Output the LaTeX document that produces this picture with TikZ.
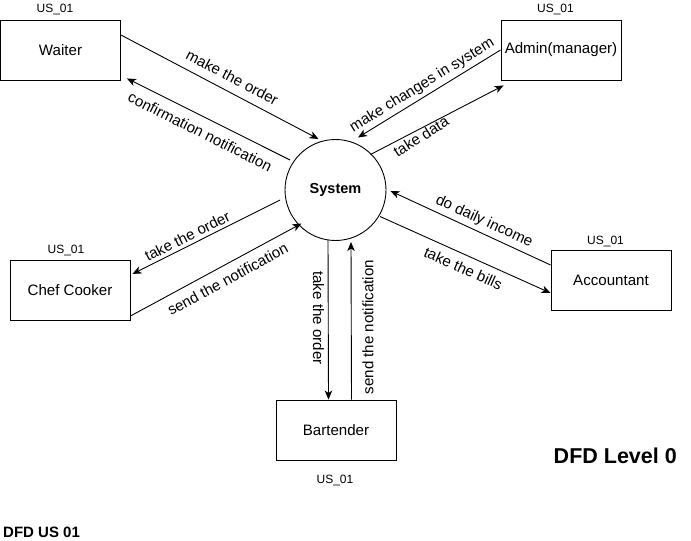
\documentclass[tikz,border=0pt]{standalone}
\usepackage{fontspec}
\setmainfont{Liberation Sans}
\usetikzlibrary{arrows.meta,calc}
\begin{document}
\begin{tikzpicture}[x=1pt,y=-1pt,
  box/.style={draw, line width=0.9pt, minimum width=120pt, minimum height=60pt, inner sep=0pt, font=\fontsize{15.1}{17}\selectfont},
  proc/.style={circle, draw, line width=0.9pt, minimum size=101pt, inner sep=0pt, font=\bfseries\fontsize{14.5}{16}\selectfont},
  tag/.style={inner sep=0pt, font=\fontsize{12}{14}\selectfont},
  arr/.style={line width=0.9pt, -{Stealth[length=9pt,width=7.5pt,inset=2.5pt]}},
  lab/.style={sloped, font=\fontsize{15.1}{17}\selectfont, text height=10.7pt, text depth=3pt},
  vlab/.style={font=\fontsize{15.1}{17}\selectfont, text height=10.7pt, text depth=3pt}
]
\useasboundingbox (0,0) rectangle (691,541);

\node[box] (waiter) at (60.5,50) {Waiter};
\node[box] (admin) at (561,50) {Admin(manager)};
\node[box] (chef) at (70,290) {Chef Cooker};
\node[box] (acc) at (611,280) {Accountant};
\node[box] (bart) at (336,430) {Bartender};
\node[proc] (sys) at (335.5,190) {System};

\node[tag] (t1) at (55,10) {US\_01};
\node[tag] (t2) at (555.5,10) {US\_01};
\node[tag] (t3) at (66,250) {US\_01};
\node[tag] (t4) at (605.5,241) {US\_01};
\node[tag] (t5) at (335,480.5) {US\_01};

% Waiter
\draw[arr] ($(waiter.east)+(0,-15)$) -- node[lab, pos=0.53, anchor=south, inner sep=5.4pt] {make the order} ($(sys.center)+(-17,-51)$);
\draw[arr] ($(sys.center)+(-45.5,-30)$) -- node[lab, pos=0.51, anchor=north, inner sep=9pt] {confirmation notification} ($(waiter.south east)+(6,-2)$);
% Admin
\draw[arr] (admin.west) -- node[lab, pos=0.51, anchor=south, inner sep=3.4pt] {make changes in system} ($(sys.center)+(22.5,-52.5)$);
\draw[arr] ($(sys.center)+(35,-35.5)$) -- node[lab, pos=0.35, anchor=north, inner sep=1.5pt, rotate=5] {take data} ($(admin.south west)+(3,5)$);
% Accountant
\draw[arr] ($(acc.west)+(0,-15)$) -- node[lab, pos=0.445, anchor=south, inner sep=4pt] {do daily income} ($(sys.center)+(55,1)$);
\draw[arr] ($(sys.center)+(44.5,26.5)$) -- node[lab, pos=0.52, anchor=north, inner sep=7.4pt] {take the bills} ($(acc.west)+(0,13)$);
% Chef
\draw[arr] ($(sys.center)+(-55.5,10)$) -- node[lab, pos=0.6, anchor=south, inner sep=0.5pt] {take the order} ($(chef.east)+(2,-16)$);
\draw[arr] ($(chef.east)+(0,26)$) -- node[lab, pos=0.53, anchor=north, inner sep=8pt] {send the notification} ($(sys.center)+(-34,33.5)$);
% Bartender
\draw[arr] ($(sys.center)+(-7.5,49.5)$) -- node[vlab, pos=0.49, rotate=-90, anchor=north, inner sep=4pt] {take the order} ($(bart.north)+(-7.5,0)$);
\draw[arr] ($(bart.north)+(15.5,0)$) -- node[vlab, pos=0.46, rotate=90, anchor=north, inner sep=11pt] {send the notification} ($(sys.center)+(15.5,52)$);

\node[font=\bfseries\fontsize{21.5}{24}\selectfont, anchor=base east, inner sep=0pt] (lvl) at (677,463) {DFD Level 0};
\node[font=\bfseries\fontsize{15}{18}\selectfont, anchor=base west, inner sep=0pt] (usl) at (3,537) {DFD US 01};
\end{tikzpicture}
\end{document}
